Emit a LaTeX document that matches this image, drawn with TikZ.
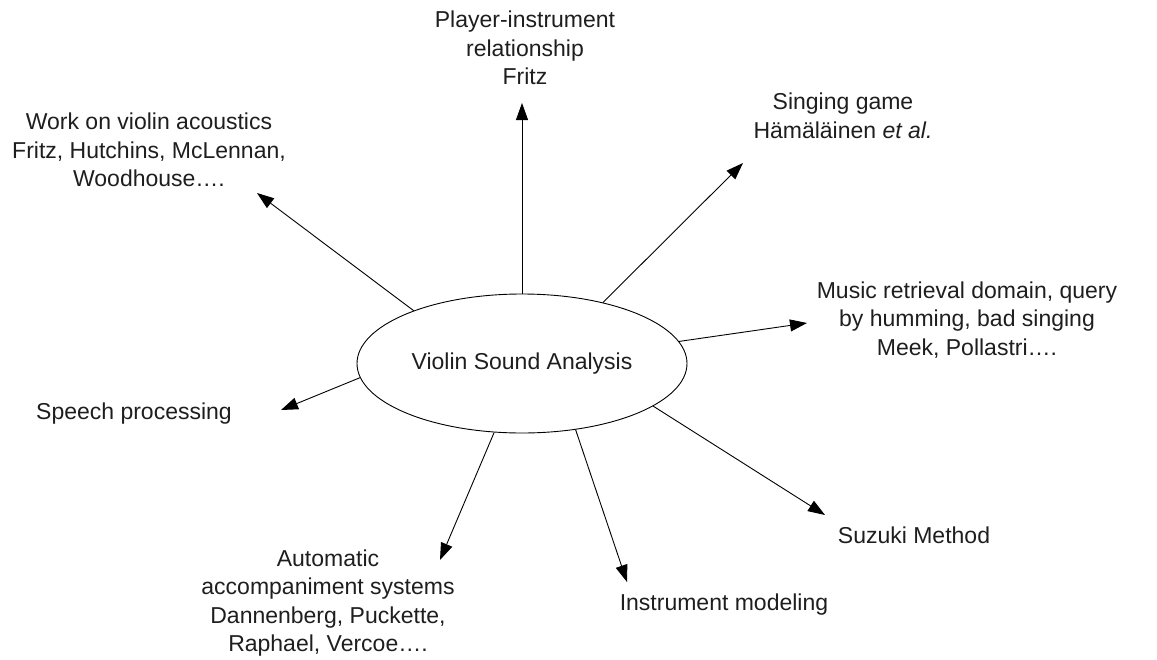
\documentclass[tikz,border=0pt]{standalone}
\usepackage{fontspec}
\setmainfont{Liberation Sans}
\usepackage{tikz}
\usetikzlibrary{shapes.geometric,arrows.meta}

\begin{document}
\begin{tikzpicture}[x=1pt,y=1pt,yscale=-1,xscale=1,
  lbl/.style={align=center,inner sep=0pt,text={rgb,255:red,30;green,30;blue,30},font=\fontsize{23}{28.5}\selectfont},
  arr/.style={line width=0.9pt,-{Triangle[length=17pt,width=12pt]}}]
\useasboundingbox (0,0) rectangle (1157,659);

% Ellipse
\node (va) at (522,363.5) [ellipse,draw,line width=0.9pt,minimum width=330pt,minimum height=139pt,inner sep=0pt,lbl] {Violin Sound Analysis};

% Arrow tips
\coordinate (tplayer) at (522,103);
\coordinate (tsing) at (743,163);
\coordinate (twork) at (257,193);
\coordinate (tmusic) at (807,323);
\coordinate (tspeech) at (281,410);
\coordinate (tsuzuki) at (825,515);
\coordinate (tinstr) at (627,582);
\coordinate (tauto) at (440,560);

% Text Node
\node (player) at (525,48) [lbl] {Player-instrument\\relationship\\Fritz};
% Text Node
\node (sing) at (843,116) [lbl] {Singing game\\Hämäläinen \textit{et al.}};
% Text Node
\node (work) at (149,150) [lbl] {Work on violin acoustics\\Fritz, Hutchins, McLennan,\\Woodhouse….};
% Text Node
\node (music) at (967,320) [lbl] {Music retrieval domain, query\\by humming, bad singing\\Meek, Pollastri….};
% Text Node
\node (speech) at (134,414) [lbl] {Speech processing};
% Text Node
\node (suzuki) at (914,535.5) [lbl] {Suzuki Method};
% Text Node
\node (instr) at (724,605) [lbl] {Instrument modeling};
% Text Node
\node (auto) at (328,603) [lbl] {Automatic\\accompaniment systems\\Dannenberg, Puckette,\\Raphael, Vercoe….};

%Straight Lines
\draw [arr] (va.90) -- (tplayer);
\draw [arr] (va.37.7) -- (tsing);
\draw [arr] (va.154.9) -- (twork);
\draw [arr] (va.8.3) -- (tmusic);
\draw [arr] (va.185) -- (tspeech);
\draw [arr] (va.-18.1) -- (tsuzuki);
\draw [arr] (va.-51.2) -- (tinstr);
\draw [arr] (va.-112.7) -- (tauto);

\end{tikzpicture}
\end{document}
